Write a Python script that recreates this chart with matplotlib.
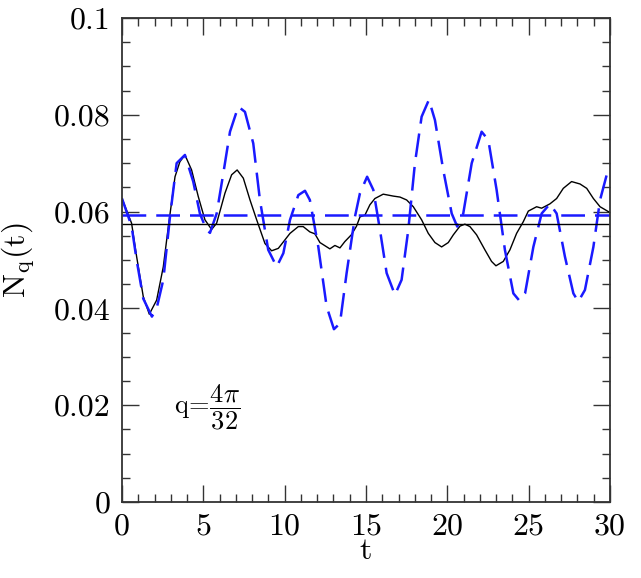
import matplotlib
matplotlib.use("Agg")
import matplotlib.pyplot as plt
from matplotlib.ticker import MultipleLocator, FuncFormatter

plt.rcParams['font.family'] = ['cmr10', 'DejaVu Serif']
plt.rcParams['mathtext.fontset'] = 'cm'
plt.rcParams['axes.unicode_minus'] = False

# black solid curve
t_black = [0.0, 0.59, 0.9, 1.31, 1.68, 2.13, 2.54, 2.85, 3.26, 3.56, 3.87, 4.28, 4.69,
           5.1, 5.51, 5.82, 6.33, 6.74, 7.08, 7.46, 7.87, 8.28, 8.79, 9.2, 9.61, 10.33,
           10.84, 11.14, 11.55, 11.86, 12.17, 12.78, 13.09, 13.4, 13.7, 14.1, 14.42,
           14.63, 14.94, 15.24, 15.55, 16.06, 16.68, 17.09, 17.5, 17.91, 18.42, 18.83,
           19.24, 19.65, 20.06, 20.37, 20.78, 21.08, 21.39, 21.8, 22.31, 22.72, 22.99,
           23.44, 23.85, 24.26, 24.67, 24.98, 25.49, 25.8, 26.31, 26.72, 27.13, 27.64,
           28.16, 28.57, 28.98, 29.39, 30.0]
n_black = [0.0627, 0.0576, 0.0507, 0.0424, 0.0388, 0.0417, 0.0486, 0.0569, 0.0672, 0.0703,
           0.0717, 0.0686, 0.0631, 0.0583, 0.0563, 0.0576, 0.0638, 0.0676, 0.0686, 0.0669,
           0.0624, 0.0583, 0.0534, 0.0519, 0.0524, 0.0555, 0.0569, 0.0569, 0.0558, 0.0554,
           0.0536, 0.0523, 0.0530, 0.0525, 0.0538, 0.0552, 0.0570, 0.0589, 0.0593, 0.0614,
           0.0627, 0.0636, 0.0632, 0.0630, 0.0624, 0.0610, 0.0583, 0.0555, 0.0536, 0.0527,
           0.0536, 0.0552, 0.0570, 0.0574, 0.0569, 0.0552, 0.0521, 0.0497, 0.0488, 0.0497,
           0.0521, 0.0555, 0.0579, 0.0601, 0.0610, 0.0607, 0.0616, 0.0627, 0.0648, 0.0662,
           0.0657, 0.0648, 0.0627, 0.0610, 0.0598]

# blue dashed curve
t_blue = [0.0, 0.59, 0.9, 1.31, 1.84, 2.13, 2.54, 2.95, 3.36, 3.87, 4.38, 4.79, 5.2, 5.41,
          5.82, 6.23, 6.64, 7.15, 7.56, 8.07, 8.48, 8.99, 9.51, 9.92, 10.33, 10.84, 11.25,
          11.55, 12.07, 12.58, 13.03, 13.4, 13.81, 14.32, 14.63, 15.07, 15.45, 15.86, 16.27,
          16.78, 17.19, 17.6, 18.01, 18.42, 18.87, 19.24, 19.75, 20.27, 20.61, 20.98, 21.5,
          22.11, 22.52, 23.03, 23.54, 24.06, 24.43, 24.78, 25.29, 25.8, 26.31, 26.72, 27.23,
          27.75, 28.05, 28.46, 28.98, 29.39, 29.8, 30.0]
n_blue = [0.0627, 0.0570, 0.0500, 0.0420, 0.0383, 0.0400, 0.0459, 0.0589, 0.0700, 0.0717,
          0.0662, 0.0596, 0.0562, 0.0556, 0.0596, 0.0679, 0.0765, 0.0817, 0.0806, 0.0741,
          0.0624, 0.0521, 0.0486, 0.0514, 0.0583, 0.0634, 0.0643, 0.0624, 0.0527, 0.0404,
          0.0357, 0.0369, 0.0473, 0.0589, 0.0638, 0.0672, 0.0645, 0.0562, 0.0473, 0.0428,
          0.0459, 0.0562, 0.0700, 0.0796, 0.0831, 0.0789, 0.0686, 0.0596, 0.0569, 0.0596,
          0.0700, 0.0765, 0.0748, 0.0645, 0.0521, 0.0431, 0.0416, 0.0431, 0.0527, 0.0596,
          0.0616, 0.0596, 0.0507, 0.0431, 0.0414, 0.0438, 0.0527, 0.0624, 0.0676, 0.0685]

mean_black = 0.0574
mean_blue = 0.0593

fig = plt.figure(figsize=(6.41, 5.78), dpi=100)
ax = fig.add_axes([0.1903, 0.1315, 0.7613, 0.8374])

ax.plot(t_black, n_black, color='black', lw=1.0)
ax.plot(t_blue, n_blue, color='#1a1aff', lw=1.8, dashes=(9.5, 4))
ax.axhline(mean_black, color='black', lw=1.0)
ax.axhline(mean_blue, color='#1a1aff', lw=1.8, dashes=(9.5, 4))

ax.set_xlim(0, 30)
ax.set_ylim(0, 0.1)
ax.xaxis.set_major_locator(MultipleLocator(5))
ax.xaxis.set_minor_locator(MultipleLocator(1))
ax.yaxis.set_major_locator(MultipleLocator(0.02))
ax.yaxis.set_minor_locator(MultipleLocator(0.005))

def yfmt(v, pos):
    if abs(v) < 1e-12:
        return '0'
    s = '%.2f' % v
    s = s.rstrip('0')
    return s

ax.yaxis.set_major_formatter(FuncFormatter(yfmt))
ax.xaxis.set_major_formatter(FuncFormatter(lambda v, p: '%d' % v))

ax.tick_params(which='both', direction='in', top=True, right=True,
               labelsize=23, colors='#333333', labelcolor='black')
ax.tick_params(which='major', length=12, width=1.0, pad=8)
ax.tick_params(which='minor', length=6, width=1.0)
for s in ax.spines.values():
    s.set_linewidth(1.3)
    s.set_color('#333333')

ax.set_xlabel('t', fontsize=23, labelpad=-2)
ax.set_ylabel(r'$\mathrm{N_q(t)}$', fontsize=23, labelpad=12)

ax.text(3.2, 0.0195, r'$\mathrm{q\!=\!\dfrac{4\pi}{32}}$', fontsize=19, va='center', ha='left')

fig.savefig('out.png', dpi=100)
